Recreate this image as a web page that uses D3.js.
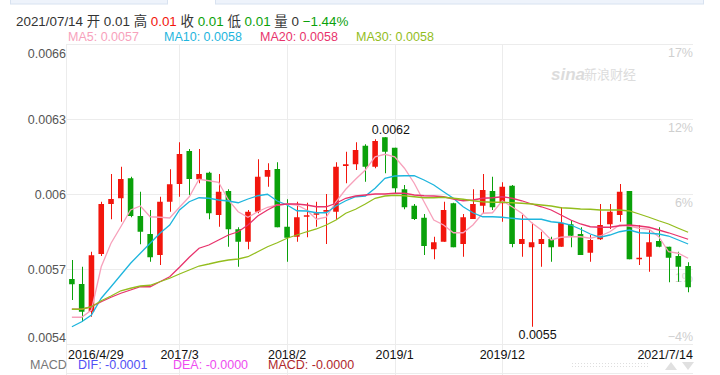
<!DOCTYPE html>
<html>
<head>
<meta charset="utf-8">
<script src="https://cdn.jsdelivr.net/npm/d3@7/dist/d3.min.js"></script>
<style>
body { margin: 0; background: #fff; }
svg { display: block; font-family: "Liberation Sans", Arial, "Noto Sans CJK SC", sans-serif; }
</style>
</head>
<body>
<svg id="chart" width="720" height="375"></svg>
<script>
// Monthly candles, 2016/4 .. 2021/7
var months = ["2016/4/29","2016/5","2016/6","2016/7","2016/8","2016/9","2016/10","2016/11","2016/12",
  "2017/1","2017/2","2017/3","2017/4","2017/5","2017/6","2017/7","2017/8","2017/9","2017/10","2017/11","2017/12",
  "2018/1","2018/2","2018/3","2018/4","2018/5","2018/6","2018/7","2018/8","2018/9","2018/10","2018/11","2018/12",
  "2019/1","2019/2","2019/3","2019/4","2019/5","2019/6","2019/7","2019/8","2019/9","2019/10","2019/11","2019/12",
  "2020/1","2020/2","2020/3","2020/4","2020/5","2020/6","2020/7","2020/8","2020/9","2020/10","2020/11","2020/12",
  "2021/1","2021/2","2021/3","2021/4","2021/5","2021/6","2021/7/14"];

var open = [0.005660,0.005640,0.005529,0.005760,0.005960,0.005983,0.006063,0.005912,0.005840,0.005756,0.005969,
  0.006040,0.006172,0.006059,0.006085,0.005916,0.006012,0.005859,0.005809,0.005929,0.006069,0.006100,0.005869,
  0.005829,0.005909,0.005917,0.005929,0.005929,0.006112,0.006119,0.006193,0.006109,0.006227,0.006185,0.006019,
  0.005953,0.005905,0.005779,0.005809,0.005963,0.005800,0.005900,0.005953,0.006012,0.005963,0.006033,0.005800,
  0.005787,0.005800,0.005820,0.005789,0.005879,0.005840,0.005765,0.005819,0.005879,0.005916,0.006012,0.005739,
  0.005749,0.005812,0.005789,0.005752,0.005712];
var close = [0.005639,0.005529,0.005755,0.005960,0.005980,0.006060,0.005912,0.005849,0.005747,0.005969,0.006039,
  0.006160,0.006060,0.006080,0.005923,0.006009,0.005859,0.005809,0.005929,0.006069,0.006096,0.005867,0.005825,
  0.005907,0.005915,0.005923,0.005936,0.006109,0.006119,0.006176,0.006109,0.006212,0.006169,0.006023,0.005947,
  0.005900,0.005792,0.005807,0.005936,0.005787,0.005907,0.005960,0.006016,0.005947,0.006029,0.005800,0.005820,
  0.005807,0.005820,0.005787,0.005885,0.005833,0.005756,0.005816,0.005876,0.005929,0.006009,0.005739,0.005745,
  0.005807,0.005789,0.005745,0.005709,0.005627];
var high = [0.005736,0.005709,0.005769,0.005969,0.006080,0.006109,0.006069,0.006009,0.005936,0.005989,0.006099,
  0.006207,0.006180,0.006180,0.006089,0.006080,0.006019,0.005867,0.005936,0.006139,0.006123,0.006127,0.005979,
  0.005969,0.005965,0.005969,0.006000,0.006127,0.006169,0.006207,0.006199,0.006219,0.006227,0.006185,0.006036,
  0.005960,0.005920,0.005829,0.005969,0.005965,0.005920,0.006019,0.006080,0.006069,0.006047,0.006036,0.005916,
  0.005885,0.005849,0.005829,0.005947,0.005896,0.005867,0.005836,0.005960,0.005960,0.006040,0.006012,0.005876,
  0.005856,0.005867,0.005789,0.005769,0.005727];
var low = [0.005576,0.005489,0.005509,0.005752,0.005899,0.005889,0.005907,0.005799,0.005729,0.005716,0.005929,
  0.005989,0.005996,0.006043,0.005899,0.005869,0.005789,0.005709,0.005779,0.005923,0.006029,0.005867,0.005729,
  0.005809,0.005827,0.005869,0.005800,0.005899,0.006043,0.006096,0.006049,0.006103,0.006083,0.006003,0.005939,
  0.005896,0.005756,0.005739,0.005809,0.005787,0.005749,0.005900,0.005920,0.005936,0.005889,0.005787,0.005749,
  0.005469,0.005709,0.005729,0.005789,0.005787,0.005756,0.005729,0.005816,0.005860,0.005889,0.005739,0.005716,
  0.005689,0.005787,0.005647,0.005649,0.005607];

var ma5 = [0.005507,0.005507,0.005536,0.005709,0.005803,0.005869,0.005936,0.005952,0.005909,0.005907,0.005904,
  0.005947,0.005989,0.006059,0.006053,0.006047,0.005976,0.005929,0.005907,0.005929,0.005947,0.005956,0.005960,
  0.005956,0.005936,0.005899,0.005907,0.005969,0.006019,0.006059,0.006096,0.006149,0.006159,0.006149,0.006103,
  0.006043,0.005969,0.005896,0.005876,0.005845,0.005845,0.005876,0.005923,0.005925,0.005973,0.005949,0.005923,
  0.005885,0.005856,0.005816,0.005827,0.005829,0.005829,0.005823,0.005832,0.005849,0.005876,0.005872,0.005863,
  0.005859,0.005829,0.005769,0.005763,0.005743];
var ma10 = [0.005469,0.005489,0.005516,0.005583,0.005629,0.005676,0.005723,0.005763,0.005803,0.005843,0.005876,
  0.005936,0.005969,0.005985,0.005983,0.005976,0.005972,0.005965,0.005980,0.005993,0.005999,0.005972,0.005956,
  0.005933,0.005932,0.005925,0.005925,0.005952,0.005973,0.005989,0.005992,0.006023,0.006063,0.006072,0.006073,
  0.006073,0.006056,0.006036,0.006009,0.005983,0.005949,0.005925,0.005909,0.005909,0.005907,0.005903,0.005899,
  0.005899,0.005899,0.005889,0.005885,0.005876,0.005859,0.005840,0.005827,0.005836,0.005849,0.005856,0.005845,
  0.005843,0.005840,0.005832,0.005816,0.005800];
var ma20 = [0.005539,0.005539,0.005549,0.005569,0.005587,0.005603,0.005616,0.005629,0.005629,0.005649,0.005669,
  0.005707,0.005747,0.005783,0.005796,0.005816,0.005836,0.005849,0.005876,0.005912,0.005936,0.005956,0.005960,
  0.005960,0.005956,0.005949,0.005949,0.005963,0.005983,0.005992,0.005996,0.006000,0.006000,0.006003,0.006003,
  0.005996,0.005993,0.005992,0.005989,0.005980,0.005973,0.005976,0.005983,0.005985,0.005989,0.005983,0.005973,
  0.005960,0.005949,0.005936,0.005916,0.005896,0.005880,0.005869,0.005867,0.005867,0.005873,0.005876,0.005872,
  0.005867,0.005856,0.005845,0.005832,0.005819];
var ma30 = [0.005539,0.005539,0.005549,0.005573,0.005592,0.005613,0.005623,0.005632,0.005635,0.005649,0.005663,
  0.005680,0.005696,0.005712,0.005720,0.005729,0.005736,0.005740,0.005749,0.005769,0.005789,0.005805,0.005823,
  0.005836,0.005849,0.005860,0.005876,0.005896,0.005923,0.005939,0.005960,0.005983,0.005992,0.005995,0.005993,
  0.005989,0.005985,0.005985,0.005987,0.005983,0.005979,0.005973,0.005969,0.005967,0.005967,0.005965,0.005963,
  0.005960,0.005956,0.005952,0.005945,0.005943,0.005940,0.005939,0.005936,0.005936,0.005936,0.005932,0.005920,
  0.005907,0.005893,0.005880,0.005863,0.005847];

var yTicks = [0.0066, 0.0063, 0.006, 0.0057, 0.0054];
var xTicks = ["2016/4/29", "2017/3", "2018/2", "2019/1", "2019/12", "2021/7/14"];
var gridMonths = ["2017/3", "2018/2", "2019/1", "2019/12"];

var RED = "#f2160d", GREEN = "#0aa10a", GRID = "#ececec";
var maColors = ["#f7a1bb", "#1eb5dd", "#e8336c", "#93bd1d"];

var svg = d3.select("#chart");
var plotLeft = 67, plotRight = 693, plotTop = 44, plotBottom = 344;

var x = d3.scaleBand().domain(months).range([plotLeft, plotRight]);
var y = d3.scaleLinear().domain([0.0054, 0.0066]).range([plotBottom, plotTop]);
var cx = function(i) { return x(months[i]) + x.bandwidth() / 2; };

// Top tab strip
svg.append("rect").attr("x", 10.5).attr("y", -10).attr("width", 157).attr("height", 14)
  .attr("fill", "#eef3fb").attr("stroke", "#d8e2f0");
svg.append("rect").attr("x", 215.5).attr("y", -10).attr("width", 488).attr("height", 14)
  .attr("fill", "#eef3fb").attr("stroke", "#d8e2f0");

// Grid
var grid = svg.append("g");
grid.selectAll("line.h").data(yTicks).enter().append("line")
  .attr("x1", plotLeft).attr("x2", plotRight)
  .attr("y1", function(d) { return Math.round(y(d)) + 0.5; })
  .attr("y2", function(d) { return Math.round(y(d)) + 0.5; })
  .attr("stroke", GRID);
grid.append("line").attr("x1", plotLeft).attr("x2", plotRight).attr("y1", 373.5).attr("y2", 373.5).attr("stroke", GRID);
grid.append("line").attr("x1", plotLeft - 0.5).attr("x2", plotLeft - 0.5).attr("y1", plotTop).attr("y2", 375).attr("stroke", GRID);
grid.selectAll("line.v").data(gridMonths).enter().append("line")
  .attr("x1", function(d) { return Math.round(x(d) + x.bandwidth() / 2) + 0.5; })
  .attr("x2", function(d) { return Math.round(x(d) + x.bandwidth() / 2) + 0.5; })
  .attr("y1", plotTop).attr("y2", 375)
  .attr("stroke", GRID);

// Watermark
svg.append("text").attr("x", 551).attr("y", 80).attr("fill", "#dcdcdc")
  .attr("style", "font-size: 17px; font-weight: bold; font-style: italic").text("sina");
svg.append("text").attr("x", 584).attr("y", 79).attr("fill", "#dcdcdc")
  .attr("style", "font-size: 13px").text("新浪财经");

// Axes
var yAxis = d3.axisLeft(y).tickValues(yTicks).tickSize(0).tickPadding(0)
  .tickFormat(function(d) { return d3.format(".4~f")(d); });
var ay = svg.append("g").attr("transform", "translate(" + (plotLeft - 1) + ",0)").call(yAxis);
ay.select(".domain").remove();
ay.selectAll("text").attr("fill", "#555").style("font-size", "12.5px").style("font-family", null)
  .attr("dy", function(d) { return d === 0.0066 ? "1.05em" : d === 0.0054 ? "-0.2em" : "0.35em"; });

var base = close[0];
var ar = svg.append("g");
ar.selectAll("text").data(yTicks).enter().append("text")
  .attr("x", plotRight).attr("y", function(d) { return y(d); })
  .attr("dy", function(d) { return d === 0.0054 ? "-0.25em" : "1.05em"; })
  .attr("text-anchor", "end").attr("fill", "#cfcfcf")
  .attr("style", "font-size: 12.5px")
  .text(function(d) { return d3.format(".0f")((d / base - 1) * 100) + "%"; });

var xAxis = d3.axisBottom(x).tickValues(xTicks).tickSize(0).tickPadding(0);
var ax = svg.append("g").attr("transform", "translate(0," + (plotBottom + 15) + ")").call(xAxis);
ax.select(".domain").remove();
ax.selectAll("text").attr("fill", "#111").style("font-size", "12.5px").style("font-family", null).attr("dy", 0)
  .attr("text-anchor", function(d, i) { return i === 0 ? "start" : i === xTicks.length - 1 ? "end" : "middle"; })
  .attr("x", function(d, i) {
    if (i === 0) return plotLeft - x(d) - x.bandwidth() / 2 + 1;
    if (i === xTicks.length - 1) return plotRight - x(d) - x.bandwidth() / 2;
    return 0;
  });

// Candles
var candles = svg.append("g");
var bw = x.bandwidth() * 0.57;
months.forEach(function(m, i) {
  var col = close[i] >= open[i] ? RED : GREEN;
  var px = Math.round(cx(i)) + 0.5;
  candles.append("line").attr("x1", px).attr("x2", px)
    .attr("y1", y(high[i])).attr("y2", y(low[i]))
    .attr("stroke", col).attr("stroke-width", 1);
  var bodyTop = y(Math.max(open[i], close[i])), bodyBot = y(Math.min(open[i], close[i]));
  candles.append("rect").attr("x", cx(i) - bw / 2).attr("width", bw)
    .attr("y", bodyTop).attr("height", Math.max(1.2, bodyBot - bodyTop))
    .attr("fill", col);
});

// MA lines
var line = d3.line().x(function(d, i) { return cx(i); }).y(function(d) { return y(d); });
[ma5, ma10, ma20, ma30].forEach(function(s, k) {
  svg.append("path").attr("d", line(s)).attr("fill", "none")
    .attr("stroke", maColors[k]).attr("stroke-width", 1.3);
});

// Max / min labels
var hi = d3.maxIndex(high), lo = d3.minIndex(low);
svg.append("text").attr("x", cx(hi) + 6).attr("y", y(high[hi]) - 3).attr("text-anchor", "middle")
  .attr("fill", "#111").attr("style", "font-size: 12.5px").text(high[hi].toFixed(4));
svg.append("text").attr("x", cx(lo) + 6).attr("y", y(low[lo]) + 12).attr("text-anchor", "middle")
  .attr("fill", "#111").attr("style", "font-size: 12.5px").text(low[lo].toFixed(4));

// Header
var n = months.length - 1;
var chg = (close[n] / close[n - 1] - 1) * 100;
var head = svg.append("text").attr("x", 16).attr("y", 26).attr("style", "font-size: 13.4px");
[["2021/07/14 开 " + open[n].toFixed(2) + " 高 ", "#333"], [high[n].toFixed(2), RED], [" 收 ", "#333"],
 [close[n].toFixed(2), GREEN], [" 低 ", "#333"], [low[n].toFixed(2), GREEN], [" 量 0 ", "#333"],
 [d3.format(".2f")(chg) + "%", GREEN]].forEach(function(p) {
  head.append("tspan").attr("fill", p[1]).attr("xml:space", "preserve").text(p[0]);
});

// MA legend
var maNames = ["MA5", "MA10", "MA20", "MA30"];
[ma5, ma10, ma20, ma30].forEach(function(s, k) {
  svg.append("text").attr("x", 68 + k * 96).attr("y", 41).attr("fill", maColors[k])
    .attr("style", "font-size: 12.5px").text(maNames[k] + ": " + s[s.length - 1].toFixed(4));
});

// MACD legend
var macd = [["MACD", "#777", 30], ["DIF: -0.0001", "#5151f5", 78], ["DEA: -0.0000", "#ee4cf0", 173], ["MACD: -0.0000", "#b0282c", 268]];
macd.forEach(function(p) {
  svg.append("text").attr("x", p[2]).attr("y", 369).attr("fill", p[1])
    .attr("style", "font-size: 12.5px").text(p[0]);
});

// Scroll widgets
[363.5, 366.5].forEach(function(yy) {
  svg.append("line").attr("x1", 572).attr("x2", 648).attr("y1", yy).attr("y2", yy)
    .attr("stroke", "#dedede").attr("stroke-dasharray", "1,2");
});
svg.append("path").attr("d", "M665,370L671,362L677,370Z").attr("fill", "#e0e0e0");
svg.append("path").attr("d", "M682,362L694,362L688,370Z").attr("fill", "#e0e0e0");
</script>
</body>
</html>
